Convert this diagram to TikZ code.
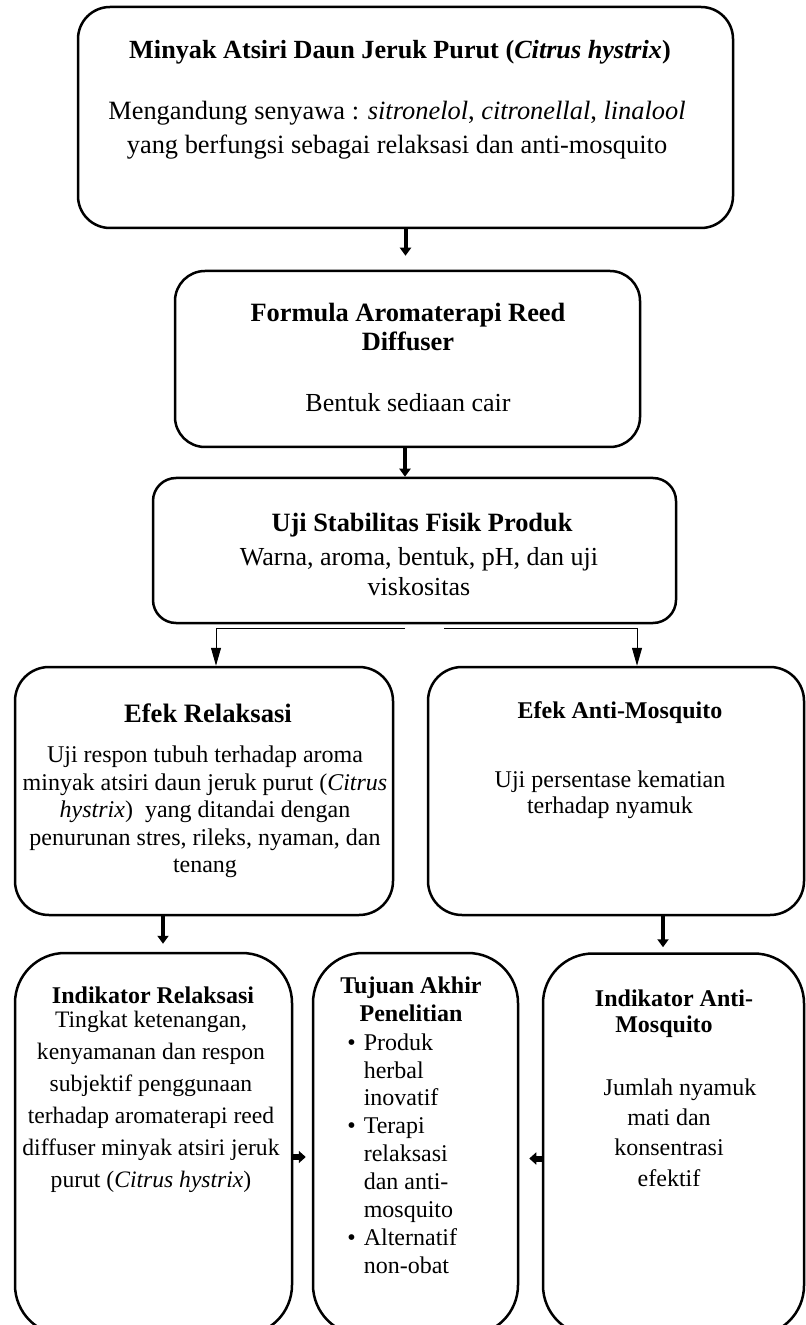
\documentclass[tikz,border=0pt]{standalone}
\usepackage{fontspec}
\setmainfont{Liberation Serif}
\usetikzlibrary{arrows.meta}
\tikzset{
  box/.style={draw, line width=1.25pt, inner sep=0pt},
  txt/.style={inner sep=0pt, align=center},
  bigarrow/.style={line width=2pt, -{Triangle[width=5.5pt,length=4pt]}},
  thinarrow/.style={line width=0.5pt, -{Triangle[width=5pt,length=9pt]}},
  sidearrow/.style={line width=3pt, -{Triangle[width=6pt,length=3.5pt]}},
}
\begin{document}
\begin{tikzpicture}[x=0.5pt,y=-0.5pt]
\useasboundingbox (0,0) rectangle (806,1325);
% boxes
\node[box, rounded corners=16pt, minimum width=327.5pt, minimum height=110.5pt] (b1) at (405.5,117.5) {};
\node[box, rounded corners=15pt, minimum width=232.5pt, minimum height=88pt] (b2) at (407.5,359) {};
\node[box, rounded corners=11.5pt, minimum width=261.5pt, minimum height=72.5pt] (b3) at (414.5,550.5) {};
\node[box, rounded corners=17pt, minimum width=189pt, minimum height=124pt] (b4) at (204,791) {};
\node[box, rounded corners=17pt, minimum width=188pt, minimum height=124pt] (b5) at (616,791) {};
\node[box, rounded corners=25pt, minimum width=138.5pt, minimum height=191pt] (bl) at (153.5,1144) {};
\node[box, rounded corners=25pt, minimum width=102.5pt, minimum height=191pt] (bm) at (415.5,1144) {};
\node[box, rounded corners=25pt, minimum width=130.5pt, minimum height=191pt] (br) at (673.5,1144.5) {};
% texts
\node[txt, font=\fontsize{13.1}{17}\selectfont\bfseries] (t1) at (400,52) {Minyak Atsiri Daun Jeruk Purut (\textit{Citrus hystrix})};
\node[txt, font=\fontsize{13.2}{17}\selectfont] (t1b) at (397,130) {Mengandung senyawa : \textit{sitronelol}, \textit{citronellal}, \textit{linalool}\\yang berfungsi sebagai relaksasi dan anti-mosquito};
\node[txt, font=\fontsize{13.2}{14.5}\selectfont\bfseries] (t2) at (408,327.5) {Formula Aromaterapi Reed\\Diffuser};
\node[txt, font=\fontsize{13}{14}\selectfont] (t2b) at (408,403) {Bentuk sediaan cair};
\node[txt, font=\fontsize{13.2}{15}\selectfont\bfseries] (t3) at (422,525) {Uji Stabilitas Fisik Produk};
\node[txt, font=\fontsize{13}{15}\selectfont] (t3b) at (419,572) {Warna, aroma, bentuk, pH, dan uji\\viskositas};
\node[txt, font=\fontsize{13.3}{15}\selectfont\bfseries] (t4) at (208,713) {Efek Relaksasi};
\node[txt, font=\fontsize{12}{13.75}\selectfont] (t4b) at (205,812) {Uji respon tubuh terhadap aroma\\minyak atsiri daun jeruk purut (\textit{Citrus}\\\textit{hystrix})~ yang ditandai dengan\\penurunan stres, rileks, nyaman, dan\\tenang};
\node[txt, font=\fontsize{12}{14}\selectfont\bfseries] (t5) at (620,713) {Efek Anti-Mosquito};
\node[txt, font=\fontsize{12}{13.25}\selectfont] (t5b) at (610,795) {Uji persentase kematian\\terhadap nyamuk};
\node[txt, font=\fontsize{12}{14}\selectfont\bfseries] (tl) at (153,995) {Indikator Relaksasi};
\node[txt, font=\fontsize{11.8}{16}\selectfont] (tlb) at (151,1102) {Tingkat ketenangan,\\kenyamanan dan respon\\subjektif penggunaan\\terhadap aromaterapi reed\\diffuser minyak atsiri jeruk\\purut (\textit{Citrus hystrix})};
\node[txt, font=\fontsize{12}{14}\selectfont\bfseries] (tm) at (411,999) {Tujuan Akhir\\Penelitian};
\node[txt, align=left, anchor=west, font=\fontsize{12}{13.95}\selectfont] (tmb) at (347,1153.5) {\textbullet\hspace{4pt}Produk\\\phantom{\textbullet}\hspace{4pt}herbal\\\phantom{\textbullet}\hspace{4pt}inovatif\\\textbullet\hspace{4pt}Terapi\\\phantom{\textbullet}\hspace{4pt}relaksasi\\\phantom{\textbullet}\hspace{4pt}dan anti-\\\phantom{\textbullet}\hspace{4pt}mosquito\\\textbullet\hspace{4pt}Alternatif\\\phantom{\textbullet}\hspace{4pt}non-obat};
\node[txt, font=\fontsize{12}{13}\selectfont\bfseries] (tr) at (674,1013.5) {Indikator Anti-\\Mosquito\hspace*{10pt}};
\node[txt, font=\fontsize{12}{15.2}\selectfont] (trb) at (669,1132.5) {\hspace*{11pt}Jumlah nyamuk\\mati dan\\konsentrasi\\efektif};
% connectors
\draw[bigarrow, shorten >=7pt] (b1.south) -- (b1.south |- b2.north);
\draw[bigarrow] ([xshift=-1.25pt]b2.south) -- ([xshift=-1.25pt]b2.south |- b3.north);
\draw[thinarrow] ([shift={(-4.75pt,-2pt)}]b3.south) -| ([xshift=6pt]b4.north);
\draw[thinarrow] ([shift={(14.75pt,-2pt)}]b3.south) -| ([xshift=10.5pt]b5.north);
\draw[bigarrow, shorten >=4pt] ([xshift=-20.5pt]b4.south) -- ([xshift=-20.5pt]b4.south |- bl.north);
\draw[bigarrow, shorten >=2.5pt] ([xshift=23.5pt]b5.south) -- ([xshift=23.5pt]b5.south |- br.north);
\draw[sidearrow, shorten >=3pt] ([yshift=-6.5pt]bl.east) -- ([yshift=-6.5pt]bl.east -| bm.west);
\draw[sidearrow, shorten >=5pt] ([yshift=-7pt]br.west) -- ([yshift=-7pt]br.west -| bm.east);
\end{tikzpicture}
\end{document}
